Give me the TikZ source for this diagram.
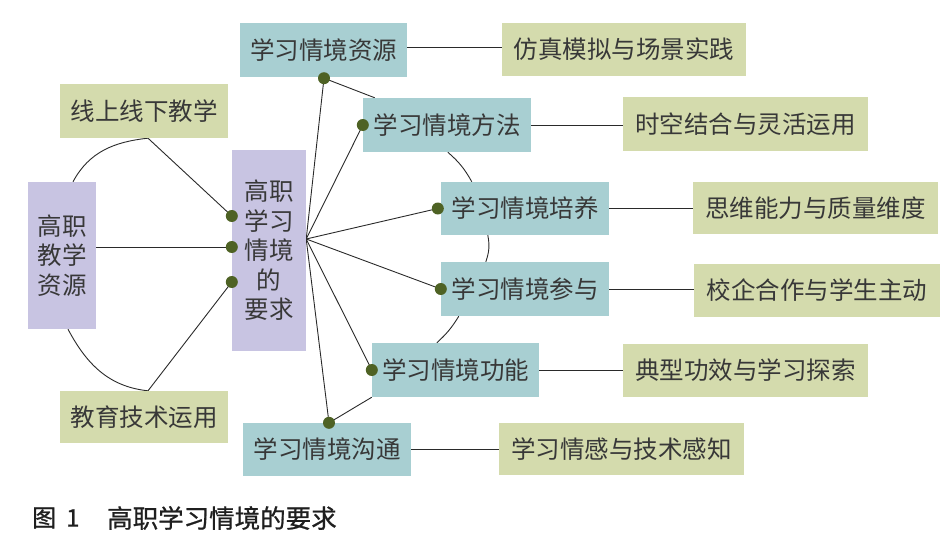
\documentclass[tikz,border=0pt]{standalone}
\usepackage{fontspec}
\setmainfont{Noto Sans CJK SC}
\newfontfamily\capfont[FakeBold=0.8]{Noto Sans CJK SC}
\usetikzlibrary{calc}
\pgfdeclarelayer{bg}
\pgfsetlayers{bg,main}
\definecolor{tealbox}{HTML}{A8CFD2}
\definecolor{greenbox}{HTML}{D4DBAD}
\definecolor{purplebox}{HTML}{C8C4E2}
\definecolor{dotgreen}{HTML}{4E6224}
\definecolor{txt}{HTML}{383838}
\definecolor{linec}{HTML}{2A2A2A}
\begin{document}
\begin{tikzpicture}[x=1pt,y=1pt,
  box/.style={inner sep=0pt, text=txt, font=\fontsize{24.5}{29.5}\selectfont, align=center},
  tealnode/.style={box, fill=tealbox, minimum width=168pt, minimum height=54pt},
  greennode/.style={box, fill=greenbox, minimum width=245pt, minimum height=53pt},
  purplenode/.style={box, fill=purplebox},
  conn/.style={draw=linec, line width=0.9pt},
  dotmark/.style={circle, fill=dotgreen, inner sep=0pt, minimum size=12pt},
]
\useasboundingbox (0,0) rectangle (949,-546);

% left part
\node[purplenode, minimum width=68pt, minimum height=147pt] (res) at (62,-255.5) {高职\\教学\\资源};
\node[purplenode, minimum width=74pt, minimum height=201pt] (req) at (269,-250.5) {高职\\学习\\情境\\的\\要求};
\node[greennode, minimum width=168pt, minimum height=54pt] (online) at (144,-111) {线上线下教学};
\node[greennode, minimum width=168pt, minimum height=52pt] (tech) at (144,-417) {教育技术运用};

% teal boxes
\node[tealnode, minimum width=167pt] (zy) at (323.5,-50) {学习情境资源};
\node[tealnode] (ff) at (447,-125) {学习情境方法};
\node[tealnode, minimum height=53pt] (py) at (525,-208.5) {学习情境培养};
\node[tealnode] (cy) at (525,-289) {学习情境参与};
\node[tealnode, minimum width=167pt] (gn) at (455.5,-370) {学习情境功能};
\node[tealnode, minimum height=53pt] (gt) at (327,-449.5) {学习情境沟通};

% green boxes right
\node[greennode, minimum width=244pt] (g1) at (624,-49.5) {仿真模拟与场景实践};
\node[greennode, minimum height=54pt] (g2) at (745.5,-124) {时空结合与灵活运用};
\node[greennode, minimum height=52pt] (g3) at (815.5,-208) {思维能力与质量维度};
\node[greennode, minimum width=246pt] (g4) at (817,-290.5) {校企合作与学生主动};
\node[greennode] (g5) at (745.5,-370.5) {典型功效与学习探索};
\node[greennode, minimum height=52pt] (g6) at (621.5,-449) {学习情感与技术感知};

% dots
\node[dotmark] (dl1) at ([yshift=34.5pt]req.west) {};
\node[dotmark] (dl2) at ([yshift=3.5pt]req.west) {};
\node[dotmark] (dl3) at ([yshift=-31.5pt]req.west) {};
\node[dotmark] (dzy) at ([xshift=0.5pt,yshift=-1pt]zy.south) {};
\node[dotmark] (dff) at (ff.west) {};
\node[dotmark] (dpy) at ([xshift=-3pt]py.west) {};
\node[dotmark] (dcy) at (cy.west) {};
\node[dotmark] (dgn) at (gn.west) {};
\node[dotmark] (dgt) at ([xshift=2pt]gt.north) {};

\coordinate (hub) at ([yshift=11.5pt]req.east);

\begin{pgfonlayer}{bg}
  % left connectors
  \draw[conn] (res.east |- dl2) -- (dl2.center);
  \draw[conn] ([xshift=11pt]res.north) to[out=62,in=186] ([xshift=4pt]online.south);
  \draw[conn] ([xshift=4pt]online.south) -- (dl1.center);
  \draw[conn] ([xshift=6pt]res.south) to[out=-62,in=174] ([xshift=4pt]tech.north);
  \draw[conn] ([xshift=4pt]tech.north) -- (dl3.center);
  % hub spokes
  \foreach \d in {dzy,dff,dpy,dcy,dgn,dgt}
    \draw[conn] (hub) -- (\d.center);
  % outer arc pieces
  \draw[conn] (dzy.center) -- ([xshift=12pt]ff.north west);
  \draw[conn] ([xshift=85pt]ff.south west) to[bend left=10] ([xshift=31pt]py.north west);
  \draw[conn] ([xshift=47pt]py.south west) to[bend left=15] ([xshift=45pt]cy.north west);
  \draw[conn] ([xshift=18pt]cy.south west) to[bend left=8] ([xshift=65pt]gn.north west);
  \draw[conn] (gn.south west) -- (dgt.center);
  % horizontal links
  \draw[conn] ([yshift=3pt]zy.east) -- ([yshift=3pt]zy.east -| g1.west);
  \draw[conn] (ff.east) -- (ff.east -| g2.west);
  \draw[conn] (py.east) -- (py.east -| g3.west);
  \draw[conn] (cy.east) -- (cy.east -| g4.west);
  \draw[conn] (gn.east) -- (gn.east -| g5.west);
  \draw[conn] (gt.east) -- (gt.east -| g6.west);
\end{pgfonlayer}

% caption
\node[anchor=west, inner sep=0pt, text=black!88, font=\capfont\fontsize{24}{24}\selectfont] (cap1) at (32,-518) {图\hspace{10pt}1};
\node[anchor=west, inner sep=0pt, text=black!88, font=\capfont\fontsize{25.5}{25.5}\selectfont] (cap2) at (107,-518) {高职学习情境的要求};
\end{tikzpicture}
\end{document}
